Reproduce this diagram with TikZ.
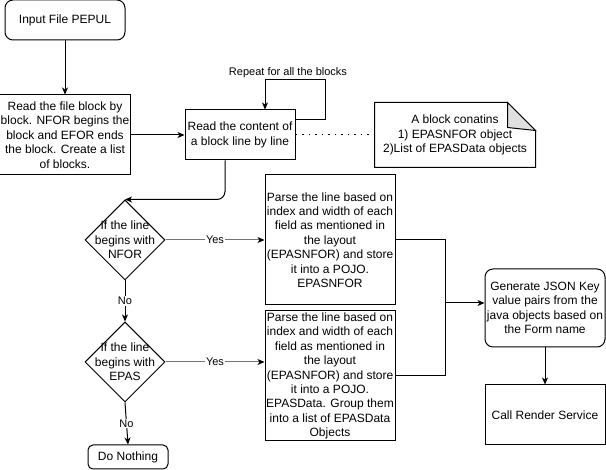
\documentclass[tikz,border=0pt]{standalone}
\usepackage{fontspec}
\setmainfont{Liberation Sans}
\usetikzlibrary{arrows.meta,calc,shapes.geometric}
\begin{document}
\begin{tikzpicture}[x=1pt,y=-1pt,
  font=\fontsize{12}{14.4}\selectfont,
  line width=1pt,
  >={Stealth[length=7pt,width=6pt,inset=2pt]},
  box/.style={draw, fill=white, align=center, inner sep=1pt},
  rbox/.style={box, rounded corners=8pt},
  dia/.style={draw, fill=white, diamond, aspect=1, inner sep=0pt, minimum width=80pt, minimum height=80pt},
  lab/.style={font=\fontsize{11}{13}\selectfont, fill=white, inner sep=1pt},
  yesline/.style={draw=black!55, -{Stealth[length=7pt,width=6pt,inset=2pt,black]}}
]
\useasboundingbox (0,0) rectangle (606,470);

\node[rbox, minimum width=120pt, minimum height=40pt] (in) at (65,20) {Input File PEPUL};
\node[box, minimum width=130pt, minimum height=80pt] (read) at (65,135)
  {Read the file block by\\block. NFOR begins the\\block and EFOR ends\\the block. Create a list\\of blocks.};
\node[box, minimum width=110pt, minimum height=50pt] (content) at (240,135)
  {Read the content of\\a block line by line};

% note
\node[align=center, minimum width=160pt, minimum height=64pt, inner sep=0pt] (note) at (455,135) {};
\draw[fill=white] (note.north west) -- ($(note.north east)+(-28,0)$) -- ($(note.north east)+(0,28)$) -- (note.south east) -- (note.south west) -- cycle;
\draw[fill=black!12] ($(note.north east)+(-28,0)$) -- ($(note.north east)+(-28,25)$) -- ($(note.north east)+(0,28)$) -- cycle;
\node[align=center, inner sep=0pt] (notetext) at (note.center)
  {A block conatins\\1) EPASNFOR object\\2)List of EPASData objects};

\node[dia] (d1) at (125,240) {};
\node[align=center, inner sep=0pt] (d1t) at (d1.center) {If the line\\begins with\\NFOR};
\node[dia] (d2) at (125,362) {};
\node[align=center, inner sep=0pt] (d2t) at (d2.center) {If the line\\begins with\\EPAS};

\node[box, minimum width=130pt, minimum height=130pt] (p1) at (330,240)
  {Parse the line based on\\index and width of each\\field as mentioned in\\the layout\\(EPASNFOR) and store\\it into a POJO.\\EPASNFOR};
\node[box, minimum width=130pt, minimum height=130pt] (p2) at (330,376)
  {Parse the line based on\\index and width of each\\field as mentioned in\\the layout\\(EPASNFOR) and store\\it into a POJO.\\EPASData. Group them\\into a list of EPASData\\Objects};

\node[rbox, minimum width=120pt, minimum height=78pt] (gen) at (545,308)
  {Generate JSON Key\\value pairs from the\\java objects based on\\the Form name};
\node[box, minimum width=120pt, minimum height=60pt] (call) at (545,415) {Call Render Service};
\node[rbox, minimum width=80pt, minimum height=24pt, rounded corners=5pt] (none) at (128,457) {Do Nothing};

% connectors
\draw[->] (in) -- (read);
\draw[->] (read) -- (content);
\coordinate (loopstart) at ($(content.north east)+(0,10)$);
\coordinate (loopend) at ($(content.north)+(25,0)$);
\draw[->] (loopstart) -| (325,80) -| (loopend);
\node[lab, fill=none] (rep) at (288,73) {Repeat for all the blocks};
\draw[dash pattern=on 1.5pt off 5pt] (content.east) -- (note.west);
\coordinate (downstart) at ($(content.south)+(-15,0)$);
\draw[->, rounded corners=8pt] (downstart) |- (d1.north);

\draw[yesline] (d1.east) -- node[lab] (y1) {Yes} (p1.west);
\draw[->] (d1.south) -- node[lab] (n1) {No} (d2.north);
\draw[yesline] (d2.east) -- node[lab] (y2) {Yes} (d2.east -| p2.west);
\draw[->] (d2.south) -- node[lab] (n2) {No} (none.north);

\coordinate (j) at (445,303);
\draw (p1.east) -| (j);
\draw (p2.east) -| (j);
\draw[->] (j) -- (j -| gen.west);
\draw[->] (gen) -- (call);
\end{tikzpicture}
\end{document}
